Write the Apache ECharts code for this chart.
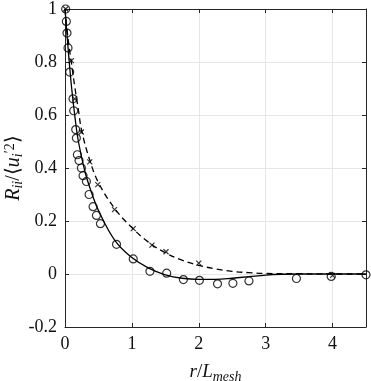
<!DOCTYPE html>
<html>
<head>
<meta charset="UTF-8" />
<title>Correlation</title>
<style>
  html, body { margin: 0; padding: 0; background: #fff; }
  #chart { width: 371px; height: 381px; }
</style>
<script src="https://cdn.jsdelivr.net/npm/echarts@6/dist/echarts.min.js"></script>
</head>
<body>
<div id="chart"></div>
<script>
// measured points, circles
var circX = [0.01, 0.02, 0.03, 0.045, 0.07, 0.12, 0.13, 0.16, 0.17, 0.185, 0.21, 0.245, 0.27, 0.32, 0.36, 0.42, 0.47, 0.53, 0.77, 1.02, 1.27, 1.52, 1.77, 2.01, 2.28, 2.51, 2.75, 3.46, 3.98, 4.5];
var circY = [1.0, 0.953, 0.909, 0.853, 0.762, 0.661, 0.616, 0.545, 0.513, 0.45, 0.428, 0.4, 0.371, 0.349, 0.30, 0.254, 0.221, 0.19, 0.112, 0.057, 0.01, 0.003, -0.021, -0.024, -0.037, -0.035, -0.026, -0.017, -0.009, -0.003];
// measured points, crosses
var crossX = [0.01, 0.096, 0.145, 0.245, 0.37, 0.49, 0.74, 1.02, 1.30, 1.51, 2.0, 4.0];
var crossY = [1.0, 0.805, 0.661, 0.536, 0.423, 0.337, 0.243, 0.171, 0.109, 0.084, 0.041, -0.005];
// fitted curves
var solidX = [0, 0.05, 0.1, 0.15, 0.2, 0.3, 0.4, 0.5, 0.75, 1.0, 1.25, 1.5, 1.75, 2.0, 2.25, 2.5, 2.75, 3.0, 3.25, 3.5, 4.0, 4.5];
var solidY = [1, 0.84, 0.70, 0.59, 0.50, 0.385, 0.305, 0.24, 0.125, 0.062, 0.022, -0.003, -0.016, -0.02, -0.02, -0.016, -0.01, -0.004, -0.001, 0, 0, 0];
var dashX = [0, 0.05, 0.1, 0.15, 0.2, 0.25, 0.37, 0.5, 0.75, 1.0, 1.25, 1.5, 1.75, 2.0, 2.25, 2.5, 2.75, 3.0, 3.5, 4.0, 4.5];
var dashY = [1, 0.88, 0.79, 0.70, 0.62, 0.54, 0.43, 0.345, 0.245, 0.175, 0.12, 0.08, 0.052, 0.033, 0.019, 0.01, 0.005, 0.002, 0.001, 0, 0];
var xTicks = ['0', '1', '2', '3', '4'];

function pairs(xs, ys) {
  return xs.map(function (x, i) { return [x, ys[i]]; });
}

var font = 'Liberation Serif';
var axisCol = '#262626';
var chart = echarts.init(document.getElementById('chart'));

chart.setOption({
  animation: false,
  backgroundColor: '#fff',
  grid: { left: 65, right: 5, top: 9, bottom: 54, containLabel: false, outerBoundsMode: 'none' },
  xAxis: [{
    type: 'value', min: 0, max: 4.5, interval: 1,
    axisLine: { onZero: false, lineStyle: { color: axisCol } },
    axisTick: { inside: true, length: 4, lineStyle: { color: axisCol } },
    splitLine: { lineStyle: { color: '#e6e6e6' } },
    axisLabel: {
      color: '#111', fontFamily: font, fontSize: 18, margin: 8, showMaxLabel: false,
      formatter: function (v) { return xTicks[Math.round(v)] || ''; }
    },
    name: '{i|r}{n|/}{i|L}{s|mesh}',
    nameLocation: 'middle', nameGap: 33, nameMoveOverlap: false,
    nameTextStyle: {
      rich: {
        i: { fontFamily: font, fontStyle: 'italic', fontSize: 19, color: '#111' },
        n: { fontFamily: font, fontSize: 19, color: '#111' },
        s: { fontFamily: font, fontStyle: 'italic', fontSize: 14, color: '#111', padding: [10, 0, 0, 0] }
      }
    }
  }, {
    type: 'value', position: 'top', min: 0, max: 4.5, interval: 1,
    axisLine: { onZero: false, lineStyle: { color: axisCol } },
    axisTick: { inside: true, length: 4, lineStyle: { color: axisCol } },
    axisLabel: { show: false }, splitLine: { show: false }
  }],
  yAxis: [{
    type: 'value', min: -0.2, max: 1, interval: 0.2,
    axisLine: { onZero: false, lineStyle: { color: axisCol } },
    axisTick: { inside: true, length: 4, lineStyle: { color: axisCol } },
    splitLine: { lineStyle: { color: '#e6e6e6' } },
    axisLabel: {
      color: '#111', fontFamily: font, fontSize: 18, margin: 8,
      formatter: function (v) { return v === 0 ? '0' : (v === 1 ? '1' : v.toFixed(1)); }
    },
    name: '{i|R}{s|ii}{n|/⟨}{i|u}{s|i}{p|′2}{n|⟩}',
    nameLocation: 'middle', nameGap: 40, nameRotate: 90, nameMoveOverlap: false,
    nameTextStyle: {
      rich: {
        i: { fontFamily: font, fontStyle: 'italic', fontSize: 20, color: '#111' },
        n: { fontFamily: font, fontSize: 20, color: '#111' },
        s: { fontFamily: font, fontStyle: 'italic', fontSize: 14, color: '#111', padding: [8, 0, 0, 0] },
        p: { fontFamily: font, fontSize: 14, color: '#111', padding: [0, 0, 8, 0] }
      }
    }
  }, {
    type: 'value', position: 'right', min: -0.2, max: 1, interval: 0.2,
    axisLine: { onZero: false, lineStyle: { color: axisCol } },
    axisTick: { inside: true, length: 4, lineStyle: { color: axisCol } },
    axisLabel: { show: false }, splitLine: { show: false }
  }],
  series: [{
    type: 'line', data: pairs(solidX, solidY), smooth: 0.4, showSymbol: false,
    lineStyle: { color: '#000', width: 1.3 }, z: 3
  }, {
    type: 'line', data: pairs(dashX, dashY), smooth: 0.4, showSymbol: false,
    lineStyle: { color: '#000', width: 1.3, type: [6, 4] }, z: 3
  }, {
    type: 'scatter', data: pairs(circX, circY), symbol: 'circle', symbolSize: 8,
    itemStyle: { color: 'rgba(0,0,0,0)', borderColor: '#000', borderWidth: 1.2 }, z: 4
  }, {
    type: 'scatter', data: pairs(crossX, crossY), symbol: 'path://M0,0L10,10M10,0L0,10', symbolSize: 5,
    itemStyle: { color: 'rgba(0,0,0,0)', borderColor: '#000', borderWidth: 1.2 }, z: 4
  }]
});
</script>
</body>
</html>
